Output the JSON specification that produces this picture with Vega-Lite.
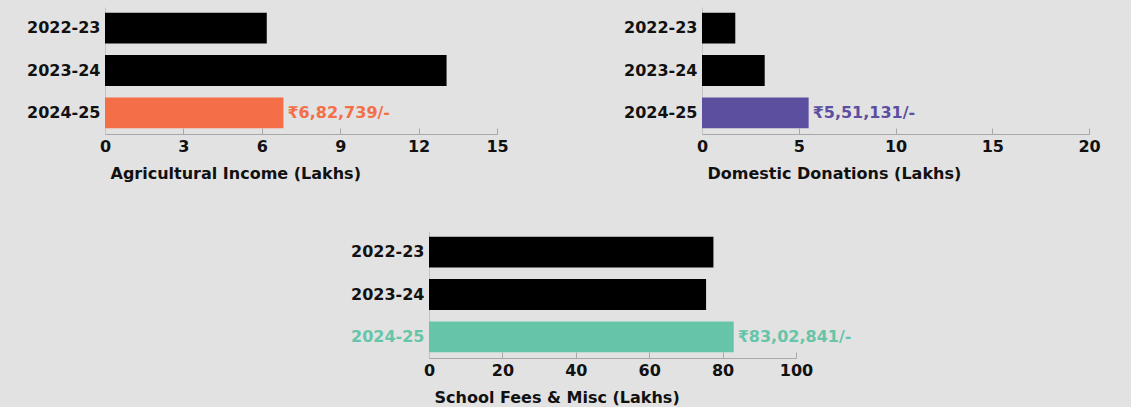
{
  "$schema": "https://vega.github.io/schema/vega-lite/v6.json",
  "background": "#e2e2e2",
  "padding": {"left": 26, "top": 7, "right": 34, "bottom": 6},
  "config": {
    "view": {"stroke": null},
    "font": "DejaVu Sans",
    "axis": {
      "labelFont": "DejaVu Sans",
      "labelFontWeight": "bold",
      "labelColor": "#111111",
      "titleFont": "DejaVu Sans",
      "titleFontWeight": "bold",
      "titleColor": "#111111",
      "domainColor": "#a8a8a8",
      "tickColor": "#a8a8a8",
      "grid": false
    },
    "axisX": {"labelFontSize": 16, "titleFontSize": 16, "tickSize": -6, "labelPadding": 10, "titleAnchor": "start", "titleAlign": "left", "titleX": 5, "titlePadding": 11, "labelFlush": false},
    "axisY": {"labelFontSize": 16, "ticks": false, "labelPadding": 5, "title": null, "domainColor": "#c4c4c4"}
  },
  "datasets": {
    "agri": [
      {"year": "2022-23", "value": 6.19, "label": ""},
      {"year": "2023-24", "value": 13.07, "label": ""},
      {"year": "2024-25", "value": 6.82739, "label": "₹6,82,739/-"}
    ],
    "dom": [
      {"year": "2022-23", "value": 1.72, "label": ""},
      {"year": "2023-24", "value": 3.24, "label": ""},
      {"year": "2024-25", "value": 5.51131, "label": "₹5,51,131/-"}
    ],
    "fees": [
      {"year": "2022-23", "value": 77.5, "label": ""},
      {"year": "2023-24", "value": 75.5, "label": ""},
      {"year": "2024-25", "value": 83.02841, "label": "₹83,02,841/-"}
    ],
    "empty": []
  },
  "spacing": 50,
  "vconcat": [
    {
      "spacing": 114,
      "hconcat": [
        {
          "width": 392,
          "height": 127,
          "data": {"name": "agri"},
          "encoding": {
            "y": {"field": "year", "type": "nominal", "sort": ["2022-23", "2023-24", "2024-25"], "scale": {"paddingInner": 0.27, "paddingOuter": 0.135}},
            "x": {"field": "value", "type": "quantitative", "scale": {"domain": [0, 15], "nice": false}, "axis": {"values": [0, 3, 6, 9, 12, 15], "title": "Agricultural Income (Lakhs)"}}
          },
          "layer": [
            {"mark": {"type": "bar"}, "encoding": {"color": {"condition": {"test": "datum.year == '2024-25'", "value": "#f46f47"}, "value": "#000000"}}},
            {"mark": {"type": "text", "align": "left", "baseline": "middle", "dx": 4, "fontSize": 16, "fontWeight": "bold", "font": "DejaVu Sans", "color": "#f46f47"}, "encoding": {"text": {"field": "label"}}}
          ]
        },
        {
          "width": 387,
          "height": 127,
          "data": {"name": "dom"},
          "encoding": {
            "y": {"field": "year", "type": "nominal", "sort": ["2022-23", "2023-24", "2024-25"], "scale": {"paddingInner": 0.27, "paddingOuter": 0.135}},
            "x": {"field": "value", "type": "quantitative", "scale": {"domain": [0, 20], "nice": false}, "axis": {"values": [0, 5, 10, 15, 20], "title": "Domestic Donations (Lakhs)"}}
          },
          "layer": [
            {"mark": {"type": "bar"}, "encoding": {"color": {"condition": {"test": "datum.year == '2024-25'", "value": "#5c4fa0"}, "value": "#000000"}}},
            {"mark": {"type": "text", "align": "left", "baseline": "middle", "dx": 4, "fontSize": 16, "fontWeight": "bold", "font": "DejaVu Sans", "color": "#5c4fa0"}, "encoding": {"text": {"field": "label"}}}
          ]
        }
      ]
    },
    {
      "spacing": 0,
      "hconcat": [
        {
          "width": 245,
          "height": 127,
          "data": {"name": "empty"},
          "mark": {"type": "point", "opacity": 0},
          "encoding": {}
        },
        {
          "width": 367,
          "height": 127,
          "data": {"name": "fees"},
          "encoding": {
            "y": {"field": "year", "type": "nominal", "sort": ["2022-23", "2023-24", "2024-25"], "scale": {"paddingInner": 0.27, "paddingOuter": 0.135}, "axis": {"labelColor": {"condition": {"test": "datum.value == '2024-25'", "value": "#66c5a8"}, "value": "#111111"}}},
            "x": {"field": "value", "type": "quantitative", "scale": {"domain": [0, 100], "nice": false}, "axis": {"values": [0, 20, 40, 60, 80, 100], "title": "School Fees & Misc (Lakhs)"}}
          },
          "layer": [
            {"mark": {"type": "bar"}, "encoding": {"color": {"condition": {"test": "datum.year == '2024-25'", "value": "#66c5a8"}, "value": "#000000"}}},
            {"mark": {"type": "text", "align": "left", "baseline": "middle", "dx": 4, "fontSize": 16, "fontWeight": "bold", "font": "DejaVu Sans", "color": "#66c5a8"}, "encoding": {"text": {"field": "label"}}}
          ]
        }
      ]
    }
  ]
}
